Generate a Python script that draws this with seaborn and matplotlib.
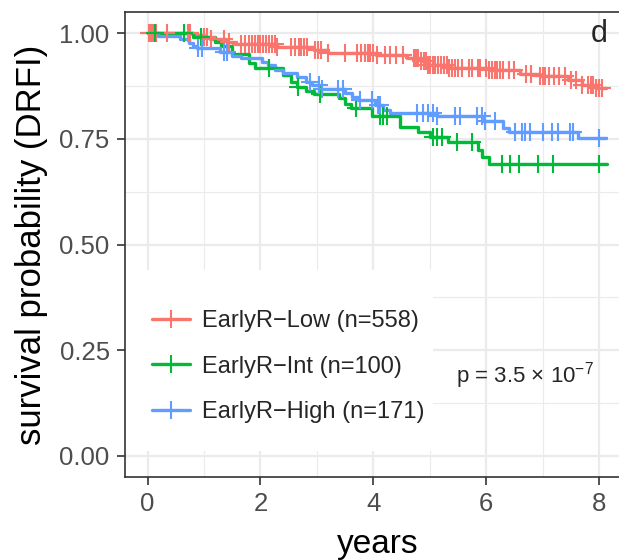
import numpy as np
import pandas as pd
import matplotlib
matplotlib.use("Agg")
import matplotlib.pyplot as plt
from matplotlib.lines import Line2D
from matplotlib.patches import Rectangle
import seaborn as sns

# ---------------- data ----------------
groups = ["EarlyR\u2212Low (n=558)", "EarlyR\u2212Int (n=100)", "EarlyR\u2212High (n=171)"]
colors = ["#F8766D", "#00BA38", "#619CFF"]

low_times = [0.8, 1.0, 1.1, 1.4, 1.55, 2.3, 2.95, 3.2, 4.05, 4.6, 4.85, 4.95, 5.35, 6.05, 6.6, 6.95, 7.45, 7.7, 7.95]
low_surv = [0.995, 0.99, 0.987, 0.98, 0.975, 0.968, 0.96, 0.953, 0.948, 0.941, 0.933, 0.925, 0.918, 0.912, 0.903, 0.899, 0.889, 0.878, 0.871]
low_censor = [0.02, 0.05, 0.08, 0.12, 0.15, 0.35, 0.71, 0.76, 1.0, 1.05, 1.12, 1.35, 1.45, 1.65, 1.72,
              1.8, 1.85, 1.9, 1.95, 2.0, 2.05, 2.1, 2.15, 2.2, 2.25, 2.3, 2.55, 2.62, 2.68, 2.72, 2.78,
              2.83, 2.97, 3.02, 3.08, 3.2, 3.5, 3.72, 3.78, 3.85, 3.9, 3.95, 4.0, 4.07, 4.2, 4.3, 4.4,
              4.53, 4.72, 4.76, 4.8, 4.85, 4.9, 4.93, 4.97, 5.0, 5.05, 5.08, 5.1, 5.15, 5.2, 5.25, 5.3,
              5.35, 5.4, 5.45, 5.5, 5.58, 5.7, 5.75, 5.85, 5.9, 6.0, 6.05, 6.1, 6.15, 6.2, 6.25, 6.3,
              6.4, 6.5, 6.7, 6.8, 6.95, 7.0, 7.05, 7.12, 7.2, 7.3, 7.4, 7.5, 7.6, 7.7, 7.8, 7.85, 7.9,
              7.95, 8.0, 8.05]
low_end = 8.13

int_times = [0.8, 1.2, 1.3, 1.5, 1.8, 1.9, 2.4, 2.55, 2.65, 2.8, 2.95, 3.4, 3.5, 3.6, 3.98, 4.48, 4.8, 5.0, 5.33, 5.85, 5.93, 6.05]
int_surv = [0.99, 0.98, 0.97, 0.95, 0.93, 0.918, 0.90, 0.885, 0.873, 0.864, 0.857, 0.846, 0.832, 0.823, 0.805, 0.778, 0.766, 0.754, 0.742, 0.723, 0.707, 0.69]
int_censor = [0.14, 0.64, 0.94, 2.15, 2.67, 3.05, 3.7, 4.12, 4.18, 4.25, 5.05, 5.13, 5.22, 5.49, 5.75,
              6.28, 6.42, 6.58, 6.92, 7.19, 8.0]
int_end = 8.14

high_times = [0.18, 0.58, 0.73, 0.8, 0.88, 1.29, 1.5, 1.65, 2.03, 2.13, 2.25, 2.4, 2.65, 2.8, 2.92, 3.05,
              3.5, 3.62, 3.73, 4.03, 4.17, 4.3, 5.13, 5.95, 6.3, 6.4, 7.63]
high_surv = [0.993, 0.985, 0.977, 0.97, 0.965, 0.955, 0.946, 0.941, 0.931, 0.924, 0.912, 0.905, 0.896, 0.885,
             0.877, 0.868, 0.858, 0.849, 0.841, 0.83, 0.818, 0.811, 0.804, 0.793, 0.775, 0.766, 0.752]
high_censor = [0.9, 0.97, 1.36, 1.4, 2.88, 3.03, 3.1, 3.38, 3.47, 3.77, 3.98, 4.08, 4.12, 4.78, 4.88, 4.97,
               5.05, 5.13, 5.45, 5.54, 5.84, 5.93, 5.98, 6.16, 6.51, 6.63, 6.69, 6.78, 7.0, 7.17, 7.28,
               7.49, 7.54, 8.0]
high_end = 8.12

x_ticks = [0, 2, 4, 6, 8]
y_ticks = [0.00, 0.25, 0.50, 0.75, 1.00]
y_ticklabels = ["0.00", "0.25", "0.50", "0.75", "1.00"]
p_text = "p = 3.5 \u00d7 10$^{\u22127}$"
panel_tag = "d"

# ---------------- build tables ----------------
series = [
    (groups[0], low_times, low_surv, low_censor, low_end),
    (groups[1], int_times, int_surv, int_censor, int_end),
    (groups[2], high_times, high_surv, high_censor, high_end),
]
step_rows, cens_rows = [], []
for g, t, s, c, e in series:
    tt = [0.0] + list(t) + [e]
    ss = [1.0] + list(s) + [s[-1]]
    for a, b in zip(tt, ss):
        step_rows.append((g, a, b))
    t_arr = np.array(t)
    s_arr = np.array([1.0] + list(s))
    for ci in c:
        idx = np.searchsorted(t_arr, ci, side="right")
        cens_rows.append((g, ci, s_arr[idx]))
steps = pd.DataFrame(step_rows, columns=["group", "time", "surv"])
cens = pd.DataFrame(cens_rows, columns=["group", "time", "surv"])

# ---------------- figure ----------------
sns.set_theme(style="white")
plt.rcParams["font.family"] = ["Liberation Sans", "DejaVu Sans"]
plt.rcParams["mathtext.fontset"] = "custom"
plt.rcParams["mathtext.rm"] = "Liberation Sans"
plt.rcParams["mathtext.it"] = "Liberation Sans:italic"
plt.rcParams["mathtext.default"] = "regular"

W, H = 619, 560
fig = plt.figure(figsize=(W / 100, H / 100), dpi=100)
left_px, right_px, top_px, bottom_px = 125, 630, 12, 477
ax = fig.add_axes([left_px / W, 1 - bottom_px / H, (right_px - left_px) / W, (bottom_px - top_px) / H])

LW, MS, MEW = 2.4, 13, 1.5
palette = dict(zip(groups, colors))
sns.lineplot(data=steps, x="time", y="surv", hue="group", palette=palette, hue_order=groups,
             estimator=None, sort=False, drawstyle="steps-post", linewidth=LW, legend=False, ax=ax,
             zorder=3)
for g in groups:
    sub = cens[cens.group == g]
    ax.plot(sub.time, sub.surv, linestyle="none", marker="+", markersize=MS, markeredgewidth=MEW,
            color=palette[g], zorder=3)

ax.set_xlim(-0.4, 8.55)
ax.set_ylim(-0.05, 1.05)
ax.set_xticks(x_ticks)
ax.set_xticklabels([str(v) for v in x_ticks])
ax.set_yticks(y_ticks)
ax.set_yticklabels(y_ticklabels)
ax.set_xticks([1, 3, 5, 7], minor=True)
ax.set_yticks([0.125, 0.375, 0.625, 0.875], minor=True)
ax.set_axisbelow(True)
ax.grid(which="major", color="#EBEBEB", linewidth=1.6)
ax.grid(which="minor", color="#EBEBEB", linewidth=0.8)
for side in ["top", "left", "bottom", "right"]:
    ax.spines[side].set_color("#333333")
    ax.spines[side].set_linewidth(1.2)
ax.tick_params(axis="both", which="major", length=6, width=1.2, color="#333333",
               labelcolor="#4D4D4D", labelsize=18.5, pad=5, bottom=True, left=True)
ax.tick_params(axis="x", which="major", pad=5)
ax.tick_params(axis="both", which="minor", length=0, bottom=False, left=False)

ax.set_xlabel("years", fontsize=24, color="black", labelpad=9)
ax.set_ylabel("survival probability (DRFI)", fontsize=25, color="black", labelpad=8)

# legend background
bg = Rectangle((125 / W, 1 - 451 / H), (433 - 125) / W, (451 - 270) / H, transform=fig.transFigure,
               facecolor="white", edgecolor="none", zorder=1)
ax.add_patch(bg)
bg.set_transform(fig.transFigure)

handles = [Line2D([], [], color=c, linewidth=LW, marker="+", markersize=MS, markeredgewidth=MEW)
           for c in colors]
leg = ax.legend(handles, groups, loc="upper left", bbox_to_anchor=(152 / W, 1 - 310 / H),
                bbox_transform=fig.transFigure, frameon=False, fontsize=17, handlelength=1.6,
                handletextpad=0.5, labelspacing=1.0, borderpad=0, borderaxespad=0)

ax.text(456 / W, 1 - 376 / H, p_text, transform=fig.transFigure, fontsize=16, ha="left", va="center")
ax.text(8.0, 0.997, panel_tag, fontsize=22, ha="center", va="center")

fig.savefig("out.png", dpi=100)
